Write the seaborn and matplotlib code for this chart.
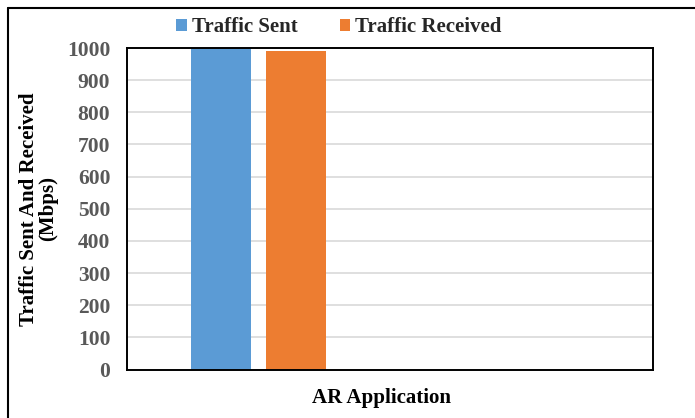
import matplotlib
matplotlib.use("Agg")
import matplotlib.pyplot as plt
import seaborn as sns
import pandas as pd
from matplotlib.lines import Line2D
from matplotlib.patches import Patch

categories = ["AR Application"]
series = ["Traffic Sent", "Traffic Received"]
traffic_sent = [1000]
traffic_received = [990]
colors = ["#5B9BD5", "#ED7D31"]
y_ticks = [0, 100, 200, 300, 400, 500, 600, 700, 800, 900, 1000]

df = pd.DataFrame({
    "cat": categories * 2,
    "series": [series[0]] * len(categories) + [series[1]] * len(categories),
    "value": traffic_sent + traffic_received,
})

sns.set_style("white")
plt.rcParams["font.family"] = ["Liberation Serif", "DejaVu Serif"]
plt.rcParams["font.weight"] = "bold"

W, H = 695, 418
fig = plt.figure(figsize=(W / 100, H / 100), dpi=100)
ax = fig.add_axes([127 / W, 1 - 369.5 / H, (653 - 127) / W, (369.5 - 48) / H])

sns.barplot(data=df, x="cat", y="value", hue="series", palette=colors,
            width=0.57, gap=0.21, ax=ax, legend=False, saturation=1,
            edgecolor="none")

ax.set_xlim(-0.5, 1.5)
ax.set_ylim(0, 1000)
ax.set_yticks(y_ticks)
ax.set_yticklabels([str(v) for v in y_ticks], fontsize=15.5, fontweight="bold", color="#595959")
ax.set_xticks([])
ax.yaxis.grid(True, color="#d9d9d9", linewidth=1.2)
ax.set_axisbelow(True)
ax.tick_params(axis="y", length=0, pad=12)
for s in ax.spines.values():
    s.set_visible(True)
    s.set_color("black")
    s.set_linewidth(1.4)

ax.set_ylabel("Traffic Sent And Received\n(Mbps)", fontsize=15, fontweight="bold",
              color="black", linespacing=0.95)
ax.yaxis.set_label_coords(-0.131, 0.5, transform=ax.transAxes)
ax.set_xlabel("AR Application", fontsize=15, fontweight="bold", color="black")
ax.xaxis.set_label_coords(0.483, -0.058, transform=ax.transAxes)
ax.xaxis.label.set_va("top")

handles = [Patch(facecolor=c, edgecolor="none") for c in colors]
fig.legend(handles, series, loc="center", bbox_to_anchor=(339 / W, 1 - 27 / H),
           ncol=2, frameon=False, prop={"size": 15, "weight": "bold"},
           handlelength=0.5, handleheight=0.5, handletextpad=0.25, columnspacing=2.0)

fig.add_artist(Line2D([8 / W, 1], [1 - 8 / H, 1 - 8 / H], color="black", linewidth=1.5,
                      transform=fig.transFigure))
fig.add_artist(Line2D([8 / W, 8 / W], [0, 1 - 8 / H], color="black", linewidth=1.5,
                      transform=fig.transFigure))

fig.savefig("out.png", dpi=100, facecolor="white")
